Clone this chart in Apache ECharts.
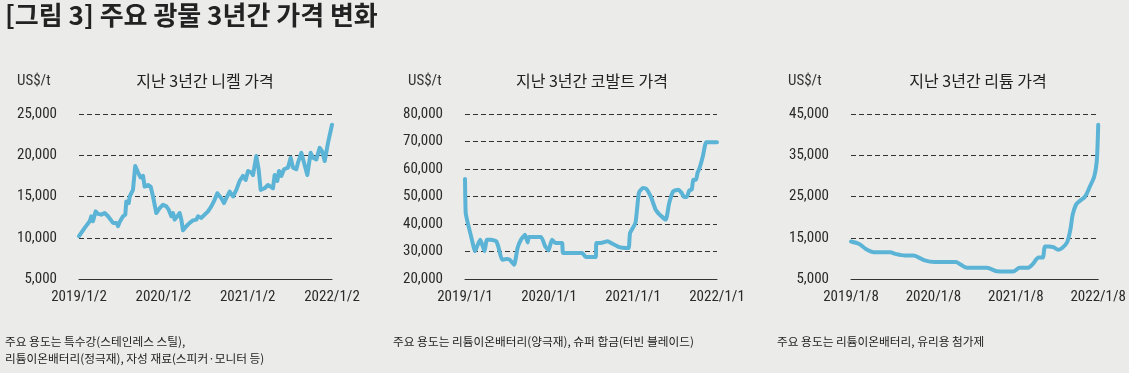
<!DOCTYPE html>
<html>
<head>
<meta charset="utf-8">
<script src="https://cdn.jsdelivr.net/npm/echarts@6/dist/echarts.min.js"></script>
<style>
html,body{margin:0;padding:0;background:#ebebea;}
#chart{width:1129px;height:373px;}
</style>
</head>
<body>
<div id="chart"></div>
<script>
// ---- Data (x = months since the first date on each axis, y = US$/t) ----
const mainTitle = '[그림 3] 주요 광물 3년간 가격 변화';
const chartTitles = ['지난 3년간 니켈 가격', '지난 3년간 코발트 가격', '지난 3년간 리튬 가격'];
const unitLabel = 'US$/t';
const notes = [
  ['주요 용도는 특수강(스테인레스 스틸),', '리튬이온배터리(정극재), 자성 재료(스피커·모니터 등)'],
  ['주요 용도는 리튬이온배터리(양극재), 슈퍼 합금(터빈 블레이드)'],
  ['주요 용도는 리튬이온배터리, 유리용 첨가제']
];
const nickelTicks = ['2019/1/2', '2020/1/2', '2021/1/2', '2022/1/2'];
const cobaltTicks = ['2019/1/1', '2020/1/1', '2021/1/1', '2022/1/1'];
const lithiumTicks = ['2019/1/8', '2020/1/8', '2021/1/8', '2022/1/8'];

const nickel = [
  [0,10200],[0.81,11200],[1.52,12000],[1.75,12600],[1.99,12000],[2.37,13200],[2.70,12900],
  [3.18,12800],[3.65,13000],[4.13,12600],[4.84,11800],[5.31,11800],[5.55,11400],[5.79,11900],
  [6.26,12600],[6.59,12800],[6.73,14400],[7.07,14200],[7.21,15000],[7.68,15800],[7.90,16000],
  [8.00,18700],[8.40,17900],[8.77,17300],[9.11,17500],[9.34,16200],[9.82,16400],[10.20,16200],
  [10.53,15000],[11.00,13000],[11.48,13600],[11.95,14000],[12.43,13800],[12.76,13400],[13.14,12600],
  [13.38,13000],[13.61,12200],[13.99,12600],[14.32,13000],[14.56,12200],[14.80,10900],[15.27,11400],
  [15.75,11800],[16.22,12100],[16.70,12200],[16.93,12600],[17.41,12400],[17.88,12800],[18.36,13200],
  [18.83,13800],[19.30,14600],[19.68,15400],[20.25,14800],[20.63,14200],[20.96,14800],[21.44,15600],
  [21.91,15000],[22.39,15800],[22.86,16900],[23.34,17500],[23.72,17000],[24.05,18100],[24.52,17900],
  [24.76,17600],[25.23,19900],[25.56,18300],[25.85,15800],[26.42,16000],[26.89,16400],[27.27,16200],
  [27.60,16000],[27.84,17600],[28.22,16900],[28.46,18100],[28.79,17500],[29.17,18300],[29.74,18500],
  [30.12,19700],[30.45,18500],[30.92,18300],[31.16,19100],[31.64,20300],[32.02,19100],[32.49,17600],
  [32.96,20300],[33.30,19700],[33.77,19500],[34.25,20900],[34.58,20500],[34.96,19300],[35.43,21500],
  [36.00,23700]
];

const cobalt = [
  [0,56400],[0.1,44000],[0.39,40400],[0.87,35500],[1.44,30100],[1.83,32500],[2.17,34300],[2.45,32500],
  [2.79,30100],[3.13,34300],[3.75,34300],[4.48,33700],[4.81,31300],[5.29,27000],[5.92,27300],
  [6.40,27000],[7.03,25200],[7.51,31300],[7.99,34300],[8.57,36100],[8.95,33300],[9.14,35300],
  [10.01,35300],[10.88,35300],[11.45,31900],[11.94,30400],[12.42,34300],[12.90,33100],[13.86,33100],
  [14.01,29500],[15.31,29500],[16.75,29500],[17.23,28000],[18.67,28000],[18.77,33100],[19.40,33100],
  [20.36,33700],[21.08,32800],[22.04,31600],[23.01,31300],[23.39,31300],[23.58,36700],[24.35,40400],
  [24.84,51300],[25.41,53100],[25.89,52800],[26.62,49500],[27.24,45200],[28.06,42800],[28.69,41600],
  [29.17,47600],[29.74,51900],[30.47,52500],[30.95,51300],[31.29,49800],[31.67,49800],[32.05,52200],
  [32.39,52500],[32.63,56100],[33.02,56100],[33.21,58500],[33.59,61000],[33.98,64600],[34.46,69700],
  [35.52,69700],[36.00,69700]
];

const lithium = [
  [0,14100],[1.19,13500],[2.15,12300],[3.34,11500],[4.53,11500],[5.72,11500],[6.44,11100],
  [7.87,10700],[9.06,10700],[10.73,9500],[12.16,9100],[13.59,9100],[15.26,9100],[15.97,8500],
  [16.93,7700],[18.36,7700],[19.79,7700],[21.22,6900],[22.41,6800],[23.60,6800],[24.56,7700],
  [25.75,7700],[26.46,8600],[27.33,10200],[27.90,10200],[28.28,12900],[28.85,12900],[29.47,12700],
  [30.19,12100],[30.75,12500],[31.47,13900],[31.95,17000],[32.28,20600],[32.76,23000],[33.23,23800],
  [34.09,25000],[34.81,27500],[35.43,29900],[35.76,33100],[35.90,37200],[36.00,42400]
];

const yRanges = [
  {min: 5000, max: 25000, interval: 5000},
  {min: 20000, max: 80000, interval: 10000},
  {min: 5000, max: 45000, interval: 10000}
];

// ---- Layout / style ----
const NUM_FONT = "'Roboto Condensed','DejaVu Sans Condensed',sans-serif";
const KR_FONT = "'Noto Sans CJK KR','Noto Sans',sans-serif";
const LINE_COLOR = '#5bb4d6';
const TEXT = '#2a2a2a';
const grids = [
  {left: 79, top: 114, width: 253, height: 165},
  {left: 465, top: 114, width: 252, height: 165},
  {left: 851, top: 114, width: 252, height: 165}
];
const titleCenters = [205, 592, 978];
const unitLefts = [17, 408, 788];
const noteLefts = [5, 393, 777];
const tickSets = [nickelTicks, cobaltTicks, lithiumTicks];
const seriesData = [nickel, cobalt, lithium];

const chart = echarts.init(document.getElementById('chart'), null, {renderer: 'canvas'});

const xAxes = tickSets.map((ticks, i) => ({
  type: 'value', gridIndex: i, min: 0, max: 36, interval: 12,
  axisLine: {show: true, lineStyle: {color: '#333', width: 1}},
  axisTick: {show: false},
  splitLine: {show: false},
  axisLabel: {
    margin: 11, color: TEXT, fontFamily: NUM_FONT, fontSize: 15,
    formatter: v => ticks[Math.round(v / 12)]
  }
}));

const yAxes = yRanges.map((r, i) => ({
  type: 'value', gridIndex: i, min: r.min, max: r.max, interval: r.interval,
  axisLine: {show: false}, axisTick: {show: false},
  splitLine: {show: true, lineStyle: {type: [5, 3], color: '#333', width: 1}},
  axisLabel: {
    margin: 22, color: TEXT, fontFamily: NUM_FONT, fontSize: 15,
    formatter: v => v.toLocaleString('en-US')
  }
}));

const series = seriesData.map((d, i) => ({
  type: 'line', xAxisIndex: i, yAxisIndex: i, data: d,
  showSymbol: false, smooth: i === 2 ? 0.3 : (i === 1 ? 0.15 : false),
  lineStyle: {color: LINE_COLOR, width: 4, cap: 'round', join: 'round'},
  silent: true
}));

const graphics = [
  {type: 'text', left: 5, top: 2, style: {text: mainTitle, fill: '#222', font: "bold 26px " + KR_FONT}}
];
chartTitles.forEach((t, i) => {
  graphics.push({type: 'text', x: titleCenters[i], y: 81,
    style: {text: t, fill: '#222', font: "16px " + KR_FONT, textAlign: 'center', textVerticalAlign: 'middle'}});
  graphics.push({type: 'text', x: unitLefts[i], y: 81,
    style: {text: unitLabel, fill: '#333', font: "15px " + NUM_FONT, textAlign: 'left', textVerticalAlign: 'middle'}});
  notes[i].forEach((line, j) => {
    graphics.push({type: 'text', x: noteLefts[i], y: 342 + j * 17,
      style: {text: line, fill: '#222', font: "11.7px " + KR_FONT, textAlign: 'left', textVerticalAlign: 'middle'}});
  });
});

chart.setOption({
  backgroundColor: '#ebebea',
  animation: false,
  grid: grids,
  xAxis: xAxes,
  yAxis: yAxes,
  series: series,
  graphic: graphics
});
</script>
</body>
</html>
